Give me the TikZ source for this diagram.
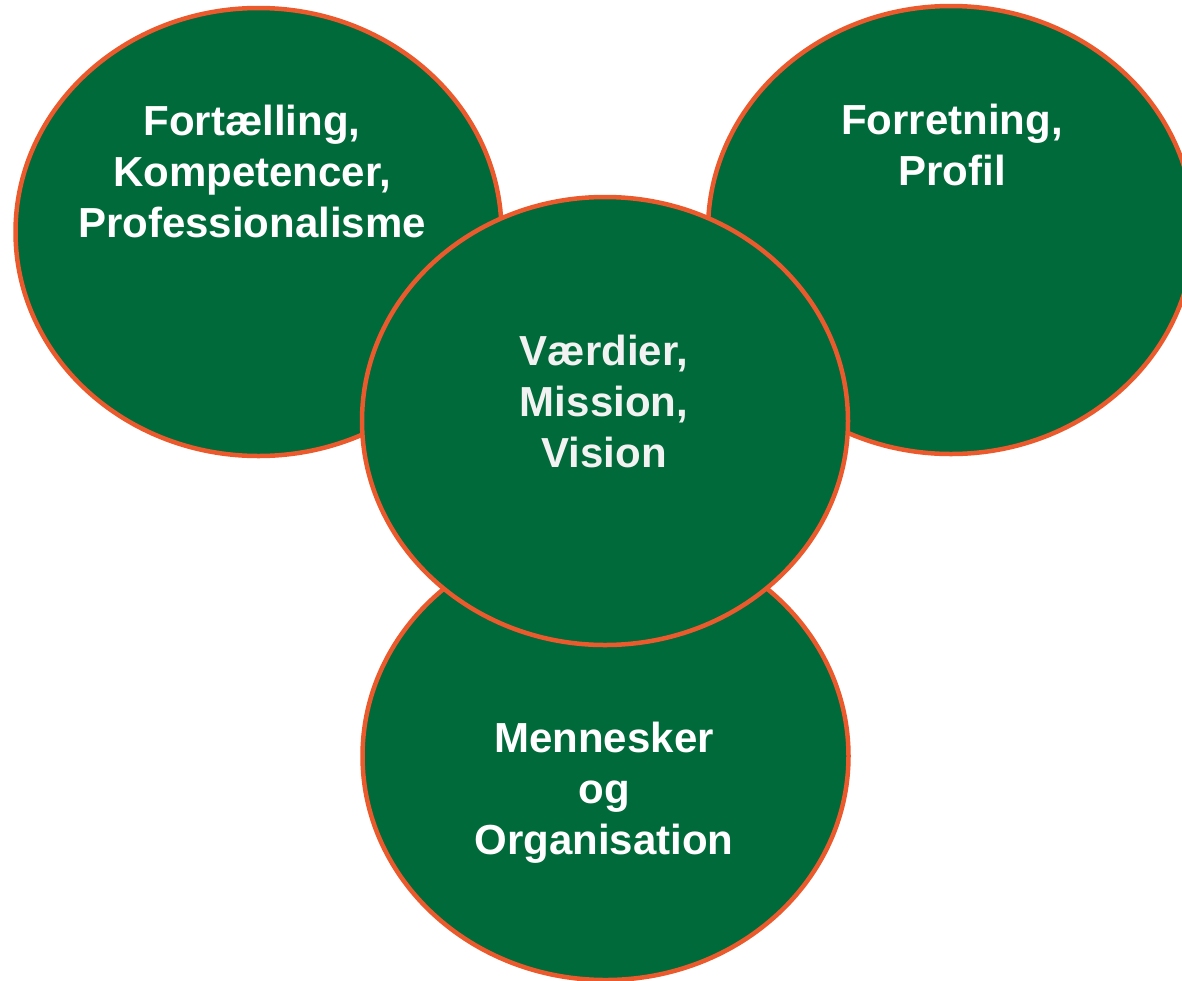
\documentclass[tikz,border=0pt]{standalone}
\usepackage{fontspec}
\setmainfont{Liberation Sans}
\usetikzlibrary{shapes.geometric}
\definecolor{dgreen}{RGB}{0,106,58}
\definecolor{borange}{RGB}{234,90,44}
\definecolor{ltxt}{RGB}{242,242,242}
\tikzset{
  blob/.style={ellipse, draw=borange, fill=dgreen, line width=4.5pt,
    minimum width=486pt, minimum height=448pt, inner sep=0pt, outer sep=0pt},
  lbl/.style={align=center, text=white, inner sep=0pt, anchor=base,
    font=\fontsize{42}{51}\selectfont\bfseries}
}
\begin{document}
\begin{tikzpicture}[x=1pt,y=-1pt]
\useasboundingbox (0,0) rectangle (1182,980);
\clip (0,0) rectangle (1182,980);
\node[blob] (tl) at (258.5,232) {};
\node[blob] (tr) at (951,230) {};
\node[blob] (bot) at (605.5,756) {};
\node[blob] (mid) at (605,421) {};
\node[lbl] (tltxt) at (252,237) {Fortælling,\\Kompetencer,\\Professionalisme};
\node[lbl] (trtxt) at (952,185) {Forretning,\\Profil};
\node[lbl,text=ltxt] (midtxt) at (604,467) {Værdier,\\Mission,\\Vision};
\node[lbl] (bottxt) at (604,854) {Mennesker\\og\\Organisation};
\end{tikzpicture}
\end{document}
